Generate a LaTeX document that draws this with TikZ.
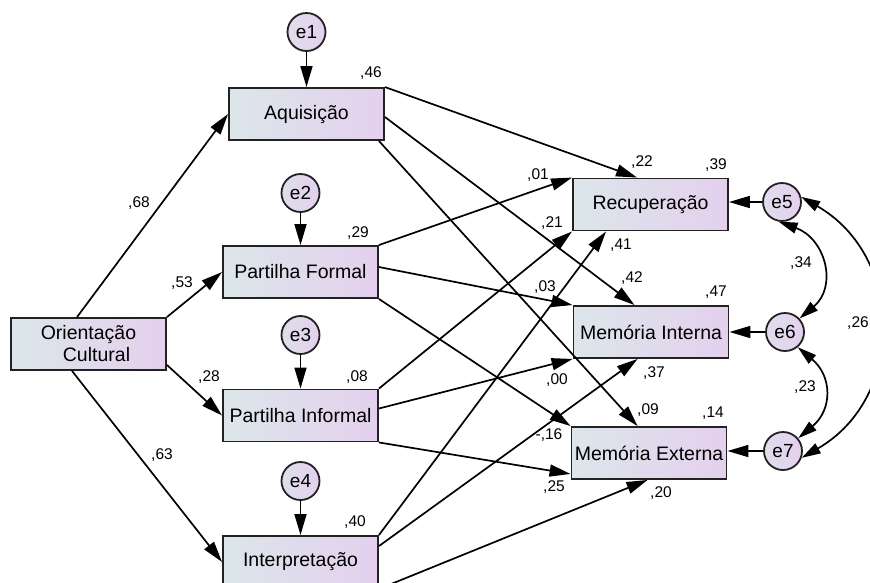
\documentclass[tikz,border=0pt]{standalone}
\usepackage{fontspec}
\setmainfont{Liberation Sans}
\usetikzlibrary{arrows.meta,calc}
\definecolor{fillL}{HTML}{DCE6EA}
\definecolor{fillR}{HTML}{E4D0EE}
\definecolor{edge}{HTML}{222222}
\tikzset{
  box/.style={draw=edge, line width=1.9pt, minimum width=155pt, minimum height=52pt,
    inner sep=0pt, left color=fillL, right color=fillR, font=\fontsize{19.5}{22}\selectfont},
  err/.style={circle, draw=edge, line width=1.8pt, minimum size=38pt, inner sep=0pt,
    left color=fillL!60!fillR, right color=fillR, font=\fontsize{19}{22}\selectfont},
  arr/.style={line width=1.7pt, -{Triangle[length=21pt,width=12pt]}},
  cov/.style={line width=1.7pt, {Triangle[length=19pt,width=11pt]}-{Triangle[length=19pt,width=11pt]}},
  lbl/.style={inner sep=0pt, font=\fontsize{15.5}{17}\selectfont}
}
\begin{document}
\begin{tikzpicture}[x=1pt,y=1pt]
\fill[white] (0,0) rectangle (870,-582);
\useasboundingbox (0,0) rectangle (870,-582);

% boxes
\node[box] (aq) at (306.5,-114) {Aquisição};
\node[box] (pf) at (300.5,-272) {Partilha Formal};
\node[box] (pi) at (300.5,-415.5) {Partilha Informal};
\node[box] (interp) at (300.5,-562) {Interpretação};
\node[box, align=center] (oc) at (88.5,-344) {Orientação\\\hspace*{16pt}Cultural};
\node[box] (rec) at (650.5,-204.5) {Recuperação};
\node[box] (mi) at (651,-332) {Memória Interna};
\node[box] (me) at (649,-453) {Memória Externa};

% error terms
\node[err] (e1) at (306.5,-32) {e1};
\node[err] (e2) at (300.5,-193) {e2};
\node[err] (e3) at (300.5,-335) {e3};
\node[err] (e4) at (300.5,-481) {e4};
\node[err] (e5) at (782,-202) {e5};
\node[err] (e6) at (785,-332) {e6};
\node[err] (e7) at (783,-451) {e7};

\draw[arr] (e1) -- (aq);
\draw[arr] (e2) -- (pf);
\draw[arr] (e3) -- (pi);
\draw[arr] (e4) -- (interp);
\draw[arr] (e5) -- (rec.east |- e5.west);
\draw[arr] (e6) -- (mi.east |- e6.west);
\draw[arr] (e7) -- (me.east |- e7.west);

% from Orientacao Cultural
\draw[arr] ([xshift=67pt]oc.north west) -- (aq.west);
\draw[arr] (oc.north east) -- (pf.west);
\draw[arr] ([yshift=6pt]oc.south east) -- (pi.west);
\draw[arr] ([xshift=62pt]oc.south west) -- (interp.west);

% to outcomes
\draw[arr] (aq.north east) -- ([xshift=65pt]rec.north west);
\draw[arr] ([yshift=-3pt]aq.east) -- ([xshift=62pt]mi.north west);
\draw[arr] ([xshift=-6pt]aq.south east) -- ([xshift=67pt]me.north west);
\draw[arr] (pf.north east) -- (rec.north west);
\draw[arr] ([yshift=5pt]pf.east) -- (mi.north west);
\draw[arr] (pf.south east) -- (me.north west);
\draw[arr] (pi.north east) -- (rec.south west);
\draw[arr] ([yshift=7pt]pi.east) -- (mi.south west);
\draw[arr] (pi.south east) -- ([yshift=6pt]me.south west);
\draw[arr] (interp.north east) -- ([xshift=34pt]rec.south west);
\draw[arr] ([yshift=-11pt]interp.north east) -- ([xshift=65pt]mi.south west);
\draw[arr] (interp.south east) -- ([xshift=77pt]me.south west);

% covariances
\draw[cov] (e5.-100) .. controls +(-20:50) and +(40:50) .. (e6.43);
\draw[cov] (e6.-50) .. controls +(-40:45) and +(40:45) .. (e7.40);
\draw[cov] (e5.15) .. controls +(-30:120) and +(30:120) .. (e7.-20);

% labels
\node[lbl] (l1) at (139,-203) {,68};
\node[lbl] (l2) at (182,-283) {,53};
\node[lbl] (l3) at (209,-377) {,28};
\node[lbl] (l4) at (162,-455) {,63};
\node[lbl] (l5) at (371,-73) {,46};
\node[lbl] (l6) at (358,-233) {,29};
\node[lbl] (l7) at (357,-377) {,08};
\node[lbl] (l8) at (355,-522) {,40};
\node[lbl] (l9) at (642,-162) {,22};
\node[lbl] (l10) at (716,-165) {,39};
\node[lbl] (l11) at (538,-175) {,01};
\node[lbl] (l12) at (552,-223) {,21};
\node[lbl] (l13) at (621,-245) {,41};
\node[lbl] (l14) at (632,-278) {,42};
\node[lbl] (l15) at (716,-292) {,47};
\node[lbl] (l16) at (545,-287) {,03};
\node[lbl] (l17) at (557,-380) {,00};
\node[lbl] (l18) at (549,-435) {-,16};
\node[lbl] (l19) at (654,-373) {,37};
\node[lbl] (l20) at (648,-410) {,09};
\node[lbl] (l21) at (713,-413) {,14};
\node[lbl] (l22) at (554,-487) {,25};
\node[lbl] (l23) at (661,-493) {,20};
\node[lbl] (l24) at (801,-263) {,34};
\node[lbl] (l25) at (805,-387) {,23};
\node[lbl, anchor=west] (l26) at (847,-323) {,26};
\end{tikzpicture}
\end{document}
